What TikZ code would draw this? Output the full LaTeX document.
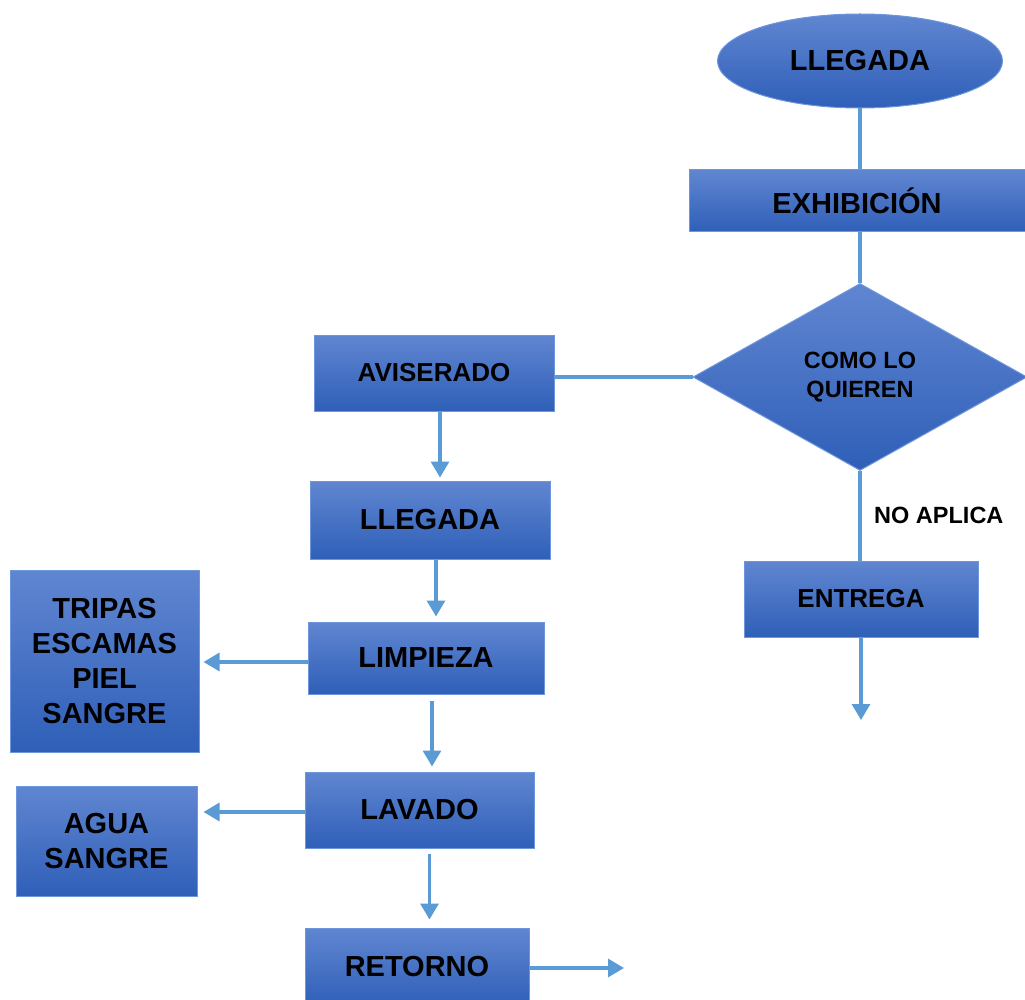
\documentclass[tikz,border=0pt]{standalone}
\usepackage{fontspec}
\setmainfont{Liberation Sans}
\usetikzlibrary{arrows.meta,shapes.geometric,shadings}
\definecolor{boxtop}{RGB}{96,134,209}
\definecolor{boxmid}{RGB}{66,113,200}
\definecolor{boxbot}{RGB}{47,95,184}
\definecolor{boxline}{RGB}{110,150,220}
\definecolor{conn}{RGB}{91,155,213}
\tikzset{
  shade3/.style={top color=boxtop, middle color=boxmid, bottom color=boxbot},
  procbox/.style={rectangle, draw=boxline, line width=1pt, shade3, inner sep=0pt, align=center,
    font=\bfseries\fontsize{29}{35}\selectfont},
  termbox/.style={ellipse, draw=boxline, line width=1pt, shade3, inner sep=0pt, align=center,
    font=\bfseries\fontsize{29}{35}\selectfont},
  decbox/.style={diamond, draw=boxline, line width=1pt, shade3, inner sep=0pt, align=center,
    font=\bfseries\fontsize{23.5}{29}\selectfont},
  link/.style={draw=conn, line width=3.2pt},
  arrowlink/.style={link, -{Triangle[width=18pt,length=16pt]}},
  lbl/.style={font=\bfseries\fontsize{23.5}{28}\selectfont, inner sep=0pt}
}
\begin{document}
\begin{tikzpicture}[x=1pt,y=-1pt]
\useasboundingbox (0,0) rectangle (1025,1000);
% nodes
\node[termbox, minimum width=285, minimum height=94] (ell) at (860,61) {LLEGADA};
\node[procbox, minimum width=336, minimum height=62] (exh) at (857,201) {EXHIBICIÓN};
\node[decbox, minimum width=334, minimum height=187, aspect=1.78] (dia) at (860,377) {COMO LO\\QUIEREN};
\node[procbox, minimum width=240, minimum height=76, font=\bfseries\fontsize{26}{30}\selectfont] (avis) at (434,373) {AVISERADO};
\node[procbox, minimum width=240, minimum height=78] (lleg) at (430,520) {LLEGADA};
\node[procbox, minimum width=236, minimum height=72] (limp) at (426,658) {LIMPIEZA};
\node[procbox, minimum width=189, minimum height=182] (trip) at (104.5,661) {TRIPAS\\ESCAMAS\\PIEL\\SANGRE};
\node[procbox, minimum width=229, minimum height=76] (lav) at (419.5,810) {LAVADO};
\node[procbox, minimum width=181, minimum height=110] (agua) at (106.5,841) {AGUA\\SANGRE};
\node[procbox, minimum width=224, minimum height=78] (ret) at (417,967) {RETORNO};
\node[procbox, minimum width=234, minimum height=76, font=\bfseries\fontsize{26}{30}\selectfont] (ent) at (861,599) {ENTREGA};
\node[lbl, anchor=west] (noap) at (874,515) {NO APLICA};
\coordinate (entout) at (861,720);
\coordinate (retout) at (624,968);
% connectors
\draw[link] (ell.south) -- (ell.south |- exh.north);
\draw[link] (dia.north |- exh.south) -- (dia.north);
\draw[link] (dia.west) -- (dia.west -| avis.east);
\draw[arrowlink, shorten >=3pt] ([xshift=6]avis.south) -- ([xshift=6]avis.south |- lleg.north);
\draw[arrowlink, shorten >=5pt] ([xshift=6]lleg.south) -- ([xshift=6]lleg.south |- limp.north);
\draw[arrowlink, shorten >=4pt] ([yshift=-4]limp.west) -- ([yshift=-4]limp.west -| trip.east);
\draw[arrowlink, shorten <=6pt, shorten >=5pt] ([xshift=6]limp.south) -- ([xshift=6]limp.south |- lav.north);
\draw[arrowlink, shorten >=6pt] ([yshift=-2]lav.west) -- ([yshift=-2]lav.west -| agua.east);
\draw[arrowlink, shorten <=5pt, shorten >=8pt] ([xshift=10]lav.south) -- ([xshift=10]lav.south |- ret.north);
\draw[arrowlink] (ret.east |- retout) -- (retout);
\draw[link] (dia.south) -- (dia.south |- ent.north);
\draw[arrowlink] (ent.south) -- (entout);
\end{tikzpicture}
\end{document}
